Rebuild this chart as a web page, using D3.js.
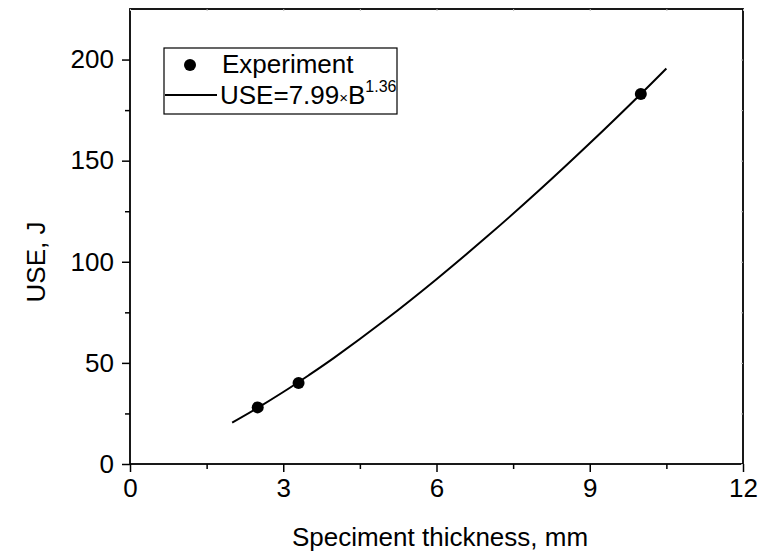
<!DOCTYPE html>
<html>
<head>
<meta charset="utf-8">
<script src="https://cdn.jsdelivr.net/npm/d3@7"></script>
<style>
html,body{margin:0;padding:0;background:#fff;}
svg{display:block;font-family:"Liberation Sans",Arial,sans-serif;}
</style>
</head>
<body>
<svg id="chart" width="760" height="553"></svg>
<script>
// Experimental points
const expThickness = [2.5, 3.3, 10];
const expUSE = [28, 40, 183];
// Fitted curve points
const fitThickness = [2, 2.5, 3, 3.5, 4, 5, 6, 7, 8, 9, 10, 10.5];
const fitUSE = [20.5, 27.8, 35.6, 43.9, 52.6, 71.3, 91.4, 112.7, 135.1, 158.6, 183.0, 195.6];
// Axis ticks
const xTicks = [0, 3, 6, 9, 12];
const xMinor = [1.5, 4.5, 7.5, 10.5];
const yTicks = [0, 50, 100, 150, 200];
const yMinor = [25, 75, 125, 175];
const xDomain = [0, 12];
const yDomain = [0, 225];
const legendLabels = ["Experiment", "USE=7.99", "B", "1.36"];
const xTitle = "Speciment thickness, mm";
const yTitle = "USE, J";

const svg = d3.select("#chart");
const L = 130, R = 743, T = 9, B = 464;
const x = d3.scaleLinear().domain(xDomain).range([L, R]);
const y = d3.scaleLinear().domain(yDomain).range([B, T]);
const fs = 26;
const FF = "Liberation Sans, Arial, sans-serif";

// frame
svg.append("rect").attr("x", L).attr("y", T).attr("width", R - L).attr("height", B - T)
  .attr("fill", "none").attr("stroke", "#000").attr("stroke-width", 1.8);

// bottom axis
const gx = svg.append("g").attr("transform", `translate(0,${B})`)
  .call(d3.axisBottom(x).tickValues(xTicks).tickSize(8).tickPadding(7).tickFormat(d3.format("d")));
gx.select(".domain").remove();
gx.selectAll("line").attr("stroke-width", 1.5);
gx.selectAll("text").attr("font-size", fs).attr("font-family", FF).attr("fill", "#000");
const gxm = svg.append("g").attr("transform", `translate(0,${B})`)
  .call(d3.axisBottom(x).tickValues(xMinor).tickSize(5).tickFormat(""));
gxm.select(".domain").remove();
gxm.selectAll("line").attr("stroke-width", 1.5);

// left axis
const gy = svg.append("g").attr("transform", `translate(${L},0)`)
  .call(d3.axisLeft(y).tickValues(yTicks).tickSize(8).tickPadding(8).tickFormat(d3.format("d")));
gy.select(".domain").remove();
gy.selectAll("line").attr("stroke-width", 1.5);
gy.selectAll("text").attr("font-size", fs).attr("font-family", FF).attr("fill", "#000");
const gym = svg.append("g").attr("transform", `translate(${L},0)`)
  .call(d3.axisLeft(y).tickValues(yMinor).tickSize(5).tickFormat(""));
gym.select(".domain").remove();
gym.selectAll("line").attr("stroke-width", 1.5);

// faint top/right ticks
const gt = svg.append("g").attr("transform", `translate(0,${T})`)
  .call(d3.axisBottom(x).tickValues(xTicks.concat(xMinor)).tickSize(2).tickFormat(""));
gt.select(".domain").remove();
gt.selectAll("line").attr("stroke", "#bbb");
const gr = svg.append("g").attr("transform", `translate(${R},0)`)
  .call(d3.axisLeft(y).tickValues(yTicks.concat(yMinor)).tickSize(2).tickFormat(""));
gr.select(".domain").remove();
gr.selectAll("line").attr("stroke", "#bbb");

// fit curve
const fitData = fitThickness.map((t, i) => [t, fitUSE[i]]);
svg.append("path").datum(fitData)
  .attr("d", d3.line().x(d => x(d[0])).y(d => y(d[1])).curve(d3.curveCatmullRom))
  .attr("fill", "none").attr("stroke", "#000").attr("stroke-width", 2);

// points
svg.selectAll("circle.pt").data(expThickness.map((t, i) => [t, expUSE[i]]))
  .enter().append("circle").attr("class", "pt")
  .attr("cx", d => x(d[0])).attr("cy", d => y(d[1])).attr("r", 6).attr("fill", "#000");

// axis titles
svg.append("text").attr("x", 440).attr("y", 546).attr("text-anchor", "middle")
  .attr("font-size", fs).text(xTitle);
svg.append("text").attr("transform", `translate(45,262) rotate(-90)`)
  .attr("text-anchor", "middle").attr("font-size", fs).text(yTitle);

// legend
const lg = svg.append("g");
lg.append("rect").attr("x", 164).attr("y", 48).attr("width", 233).attr("height", 66)
  .attr("fill", "#fff").attr("stroke", "#000").attr("stroke-width", 1.2);
lg.append("circle").attr("cx", 190).attr("cy", 65).attr("r", 6).attr("fill", "#000");
lg.append("text").attr("x", 222).attr("y", 73).attr("font-size", fs).text(legendLabels[0]);
lg.append("line").attr("x1", 165).attr("x2", 217).attr("y1", 95).attr("y2", 95)
  .attr("stroke", "#000").attr("stroke-width", 2);
const t2 = lg.append("text").attr("x", 220).attr("y", 104).attr("font-size", fs);
t2.append("tspan").text(legendLabels[1]);
t2.append("tspan").attr("font-size", 15).attr("dy", -1).text("×");
t2.append("tspan").attr("font-size", fs).attr("dy", 1).text(legendLabels[2]);
t2.append("tspan").attr("font-size", 16).attr("dy", -12).text(legendLabels[3]);
</script>
</body>
</html>
